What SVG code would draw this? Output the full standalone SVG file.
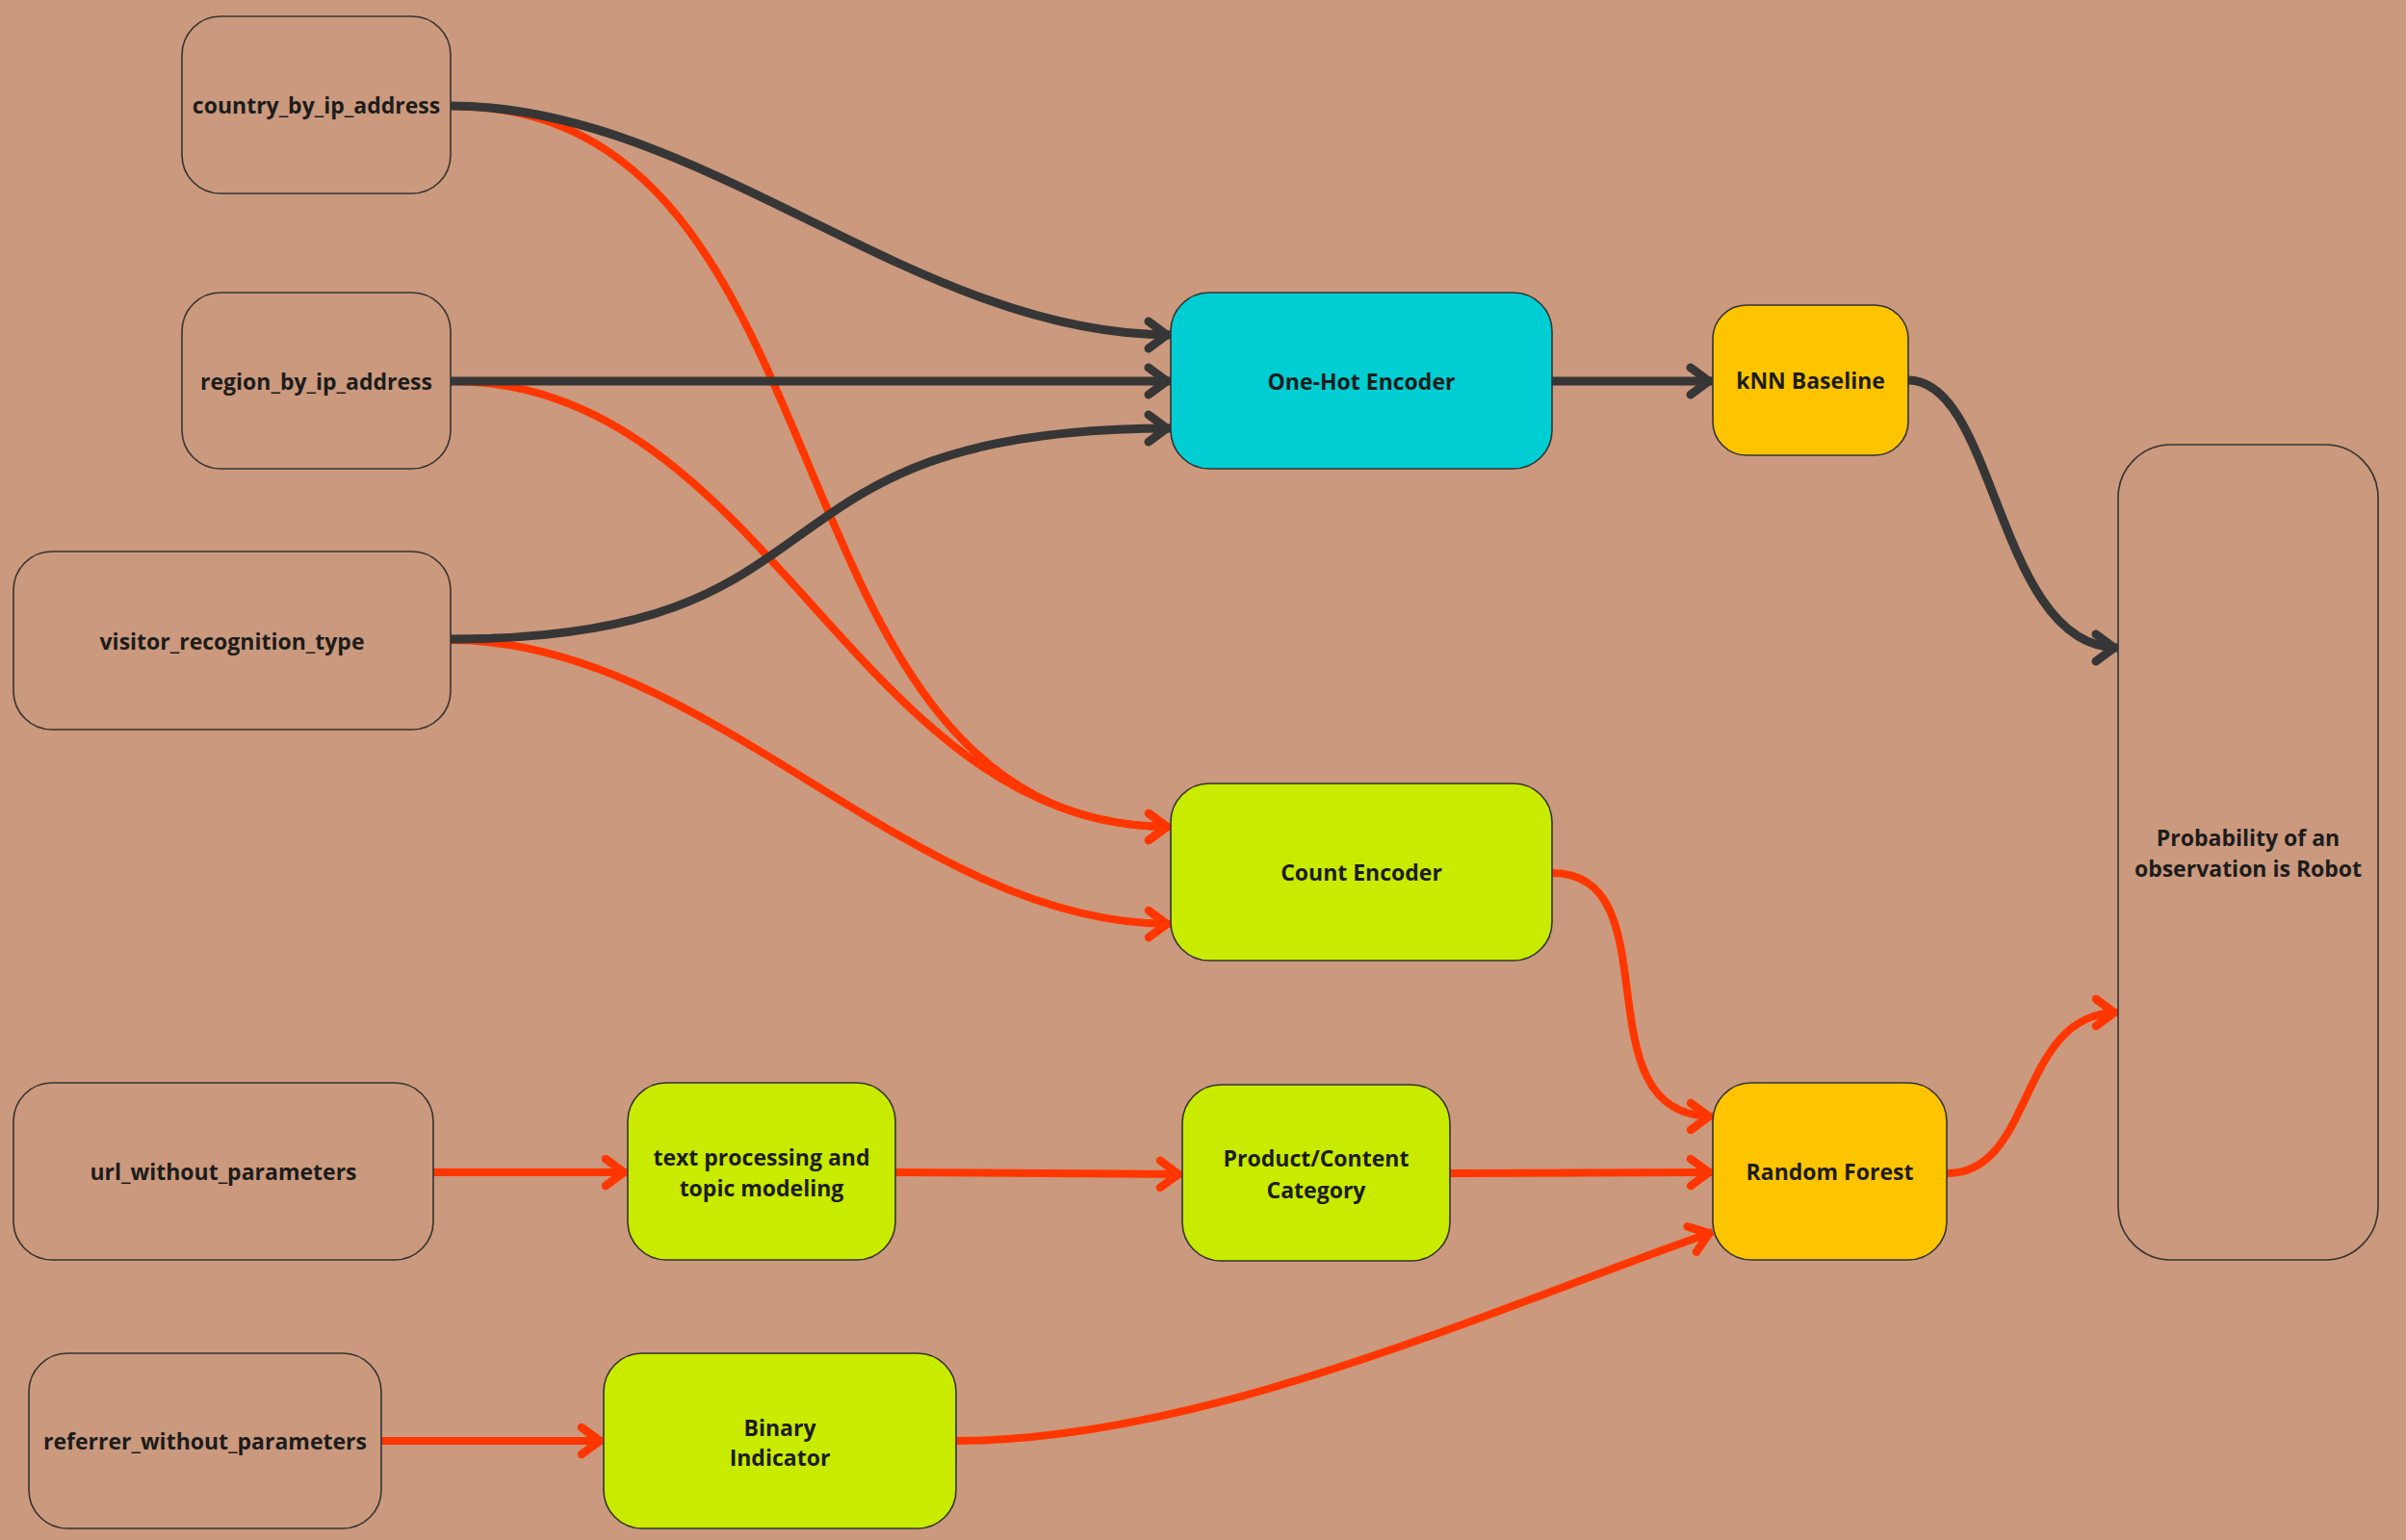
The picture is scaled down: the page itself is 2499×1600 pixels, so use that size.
<svg xmlns="http://www.w3.org/2000/svg" width="2499" height="1600" viewBox="0 0 2499 1600">
<defs>
<style>
.node{stroke:#333333;stroke-width:1.6}
.in{fill:none}
.cyan{fill:#00CED3}
.green{fill:#C8EB00}
.yellow{fill:#FFC400}
.lbl{font-family:"Open Sans","Noto Sans","Liberation Sans",sans-serif;font-weight:700;font-size:23px;fill:#1c1c1c;text-anchor:middle;dominant-baseline:central}
.dk{fill:none;stroke:#363636;stroke-width:9}
.rd{fill:none;stroke:#FF3600;stroke-width:8}
</style>
<marker id="ad" markerUnits="userSpaceOnUse" markerWidth="40" markerHeight="40" refX="0" refY="0" orient="auto" overflow="visible">
<path d="M-23,-14 L-4,0 L-23,14" fill="none" stroke="#363636" stroke-width="9" stroke-linecap="round" stroke-linejoin="round"/>
</marker>
<marker id="ar" markerUnits="userSpaceOnUse" markerWidth="40" markerHeight="40" refX="0" refY="0" orient="auto" overflow="visible">
<path d="M-23,-14 L-4,0 L-23,14" fill="none" stroke="#FF3600" stroke-width="8.5" stroke-linecap="round" stroke-linejoin="round"/>
</marker>
</defs>
<rect width="2499" height="1600" fill="#CB997D"/>
<g id="connectors">
<path class="rd" marker-end="url(#ar)" d="M468,110 C900,110 780,859 1216,859"/>
<path class="rd" marker-end="url(#ar)" d="M468,396 C800,396 885,859 1216,859"/>
<path class="rd" marker-end="url(#ar)" d="M468,665 C738,665 945,960 1216,960"/>
<path class="dk" marker-end="url(#ad)" d="M468,110 C730,110 950,348 1216,348"/>
<path class="dk" marker-end="url(#ad)" d="M468,396 L1216,396"/>
<path class="dk" marker-end="url(#ad)" d="M468,664 C900,664 760,445 1216,445"/>
<path class="dk" marker-end="url(#ad)" d="M1612,396 L1779,396"/>
<path class="dk" marker-end="url(#ad)" d="M1982,395 C2074,395 2074,673 2200,673"/>
<path class="rd" marker-end="url(#ar)" d="M1612,907 C1740,907 1638,1160 1779,1160"/>
<path class="rd" marker-end="url(#ar)" d="M450,1218 L652,1218"/>
<path class="rd" marker-end="url(#ar)" d="M930,1218 L1228,1220"/>
<path class="rd" marker-end="url(#ar)" d="M1506,1219 L1779,1218"/>
<path class="rd" marker-end="url(#ar)" d="M396,1497 L627,1497"/>
<path class="rd" marker-end="url(#ar)" d="M993,1497 C1250,1497 1550,1360 1779,1280"/>
<path class="rd" marker-end="url(#ar)" d="M2022,1219 C2115,1219 2095,1052 2200,1052"/>
</g>
<g id="country_by_ip_address"><rect class="node in" x="189" y="17" width="279" height="184" rx="40"/><text class="lbl" x="328.5" y="109">country_by_ip_address</text></g>
<g id="region_by_ip_address"><rect class="node in" x="189" y="304" width="279" height="183" rx="40"/><text class="lbl" x="328.5" y="395.5">region_by_ip_address</text></g>
<g id="visitor_recognition_type"><rect class="node in" x="14" y="573" width="454" height="185" rx="40"/><text class="lbl" x="241" y="665.5">visitor_recognition_type</text></g>
<g id="one_hot_encoder"><rect class="node cyan" x="1216" y="304" width="396" height="183" rx="40"/><text class="lbl" x="1414" y="395.5">One-Hot Encoder</text></g>
<g id="knn_baseline"><rect class="node yellow" x="1779" y="317" width="203" height="156" rx="35"/><text class="lbl" x="1880.5" y="395">kNN Baseline</text></g>
<g id="probability"><rect class="node in" x="2200" y="462" width="270" height="847" rx="55"/><text class="lbl" x="2335" y="870">Probability of an</text><text class="lbl" x="2335" y="902">observation is Robot</text></g>
<g id="count_encoder"><rect class="node green" x="1216" y="814" width="396" height="184" rx="40"/><text class="lbl" x="1414" y="906">Count Encoder</text></g>
<g id="url_without_parameters"><rect class="node in" x="14" y="1125" width="436" height="184" rx="40"/><text class="lbl" x="232" y="1217">url_without_parameters</text></g>
<g id="text_processing"><rect class="node green" x="652" y="1125" width="278" height="184" rx="40"/><text class="lbl" x="791" y="1202">text processing and</text><text class="lbl" x="791" y="1234">topic modeling</text></g>
<g id="product_content_category"><rect class="node green" x="1228" y="1127" width="278" height="183" rx="40"/><text class="lbl" x="1367" y="1203">Product/Content</text><text class="lbl" x="1367" y="1236">Category</text></g>
<g id="random_forest"><rect class="node yellow" x="1779" y="1125" width="243" height="184" rx="40"/><text class="lbl" x="1900.5" y="1217">Random Forest</text></g>
<g id="referrer_without_parameters"><rect class="node in" x="30" y="1406" width="366" height="182" rx="40"/><text class="lbl" x="213" y="1497">referrer_without_parameters</text></g>
<g id="binary_indicator"><rect class="node green" x="627" y="1406" width="366" height="182" rx="40"/><text class="lbl" x="810" y="1483">Binary</text><text class="lbl" x="810" y="1514">Indicator</text></g>
</svg>
